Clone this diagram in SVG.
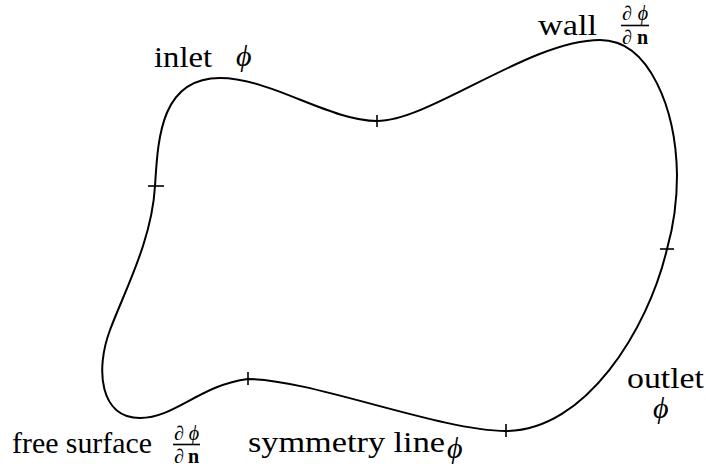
<svg xmlns="http://www.w3.org/2000/svg" width="706" height="468" viewBox="0 0 706 468">
<style>
.c{fill:none;stroke:#000;stroke-width:2}
.t{stroke:#000;stroke-width:1.6}
.l{font-family:'Liberation Serif',serif;font-size:30px;fill:#000}
.m{font-family:'Liberation Serif',serif;font-style:italic;fill:#000}
.f{font-family:'Liberation Serif',serif;font-size:20px;fill:#000}
.b{font-weight:bold;font-style:normal}
</style>
<rect width="706" height="468" fill="#fff"/>
<g id="boundary">
<path class="c" d="M155,186 C158,140 160,78 220,78 C270,78 330,121 377,121 C430,121 530,40 600,40 C650,40 676,110 677,175 C677,205 673,228 667,249 C648,330 585,431 506,431 C440,431 310,379 248,379 C200,385 175,418 140,418 C100,418 95,370 110,330 C125,290 152,240 155,186 Z"/>
</g>
<g id="ticks">
<line class="t" x1="148" y1="186" x2="164" y2="186"/>
<line class="t" x1="377" y1="115" x2="377" y2="127"/>
<line class="t" x1="660" y1="249" x2="674" y2="249"/>
<line class="t" x1="506" y1="424" x2="506" y2="437"/>
<line class="t" x1="248" y1="372" x2="248" y2="385"/>
</g>
<g id="inlet">
<text class="l" x="154" y="67" textLength="58" lengthAdjust="spacingAndGlyphs">inlet</text>
<text class="m" x="236" y="66" font-size="30">ϕ</text>
</g>
<g id="wall">
<text class="l" x="538" y="35" textLength="59" lengthAdjust="spacingAndGlyphs">wall</text>
<text class="f" x="622" y="20" textLength="26"><tspan>∂</tspan><tspan class="m">ϕ</tspan></text>
<line x1="621" y1="25.5" x2="649" y2="25.5" stroke="#000" stroke-width="1.6"/>
<text class="f" x="622" y="44" textLength="26"><tspan>∂</tspan><tspan class="b">n</tspan></text>
</g>
<g id="outlet">
<text class="l" x="627" y="388" textLength="77" lengthAdjust="spacingAndGlyphs">outlet</text>
<text class="m" x="653" y="418" font-size="30">ϕ</text>
</g>
<g id="free-surface">
<text class="l" x="12" y="453" textLength="140" lengthAdjust="spacingAndGlyphs">free surface</text>
<text class="f" x="174" y="440" textLength="25"><tspan>∂</tspan><tspan class="m">ϕ</tspan></text>
<line x1="173" y1="444.5" x2="200" y2="444.5" stroke="#000" stroke-width="1.6"/>
<text class="f" x="174" y="463" textLength="25"><tspan>∂</tspan><tspan class="b">n</tspan></text>
</g>
<g id="symmetry-line">
<text class="l" x="248" y="452" textLength="197" lengthAdjust="spacingAndGlyphs">symmetry line</text>
<text class="m" x="447" y="458" font-size="30">ϕ</text>
</g>
</svg>
